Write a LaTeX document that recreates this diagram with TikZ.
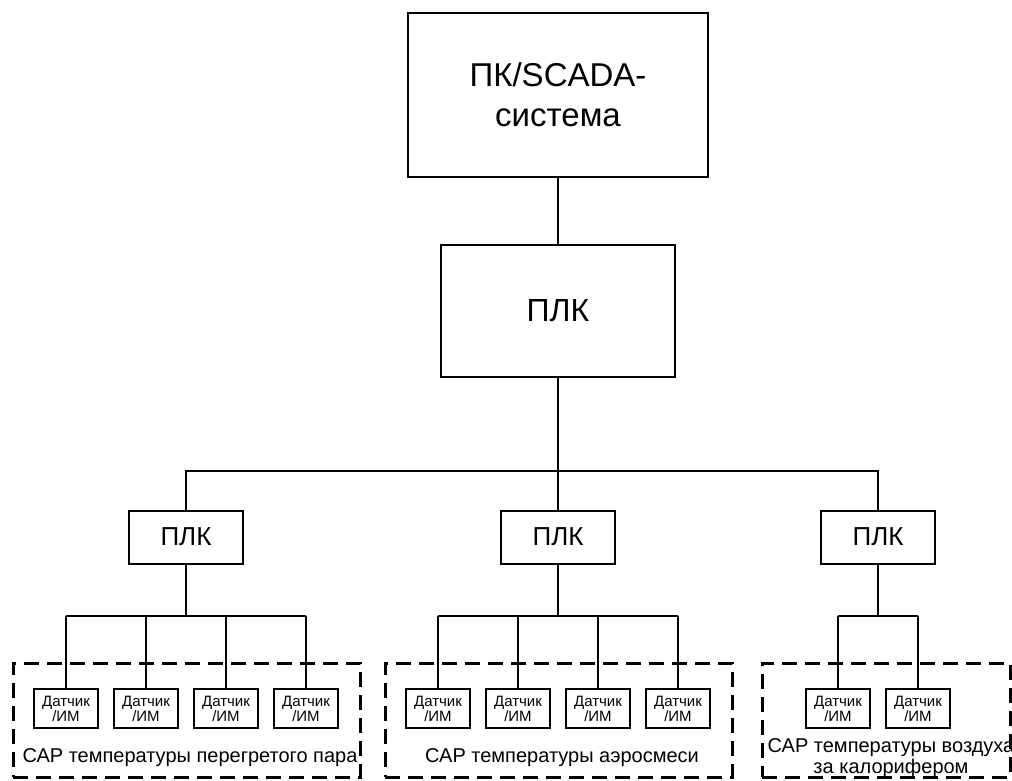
\documentclass[tikz,border=0pt]{standalone}
\usepackage{fontspec}
\setmainfont{Liberation Sans}

\tikzset{
  bigbox/.style={draw, line width=0.6pt, inner sep=0pt, align=center},
  plcbox/.style={draw, line width=1pt, minimum width=57pt, minimum height=26.5pt,
    inner sep=0pt, font=\fontsize{13}{15}\selectfont},
  sensbox/.style={draw, line width=1pt, minimum width=32pt, minimum height=19.5pt,
    inner sep=0pt, align=center, font=\fontsize{7.5}{7.5}\selectfont},
  groupbox/.style={draw, line width=1.5pt, dash pattern=on 7.5pt off 4pt,
    minimum height=57pt, inner sep=0pt},
  wire/.style={line width=1pt},
  caption/.style={align=center, inner sep=0pt, font=\fontsize{10}{10.5}\selectfont}
}

\begin{document}
\begin{tikzpicture}[x=0.5pt, y=-0.5pt]
\useasboundingbox (0,0) rectangle (1012,781);

% upper level
\node[bigbox, minimum width=150pt, minimum height=82pt,
  font=\fontsize{16.5}{20}\selectfont] (pc) at (558,95) {ПК/SCADA-\\система};
\node[bigbox, minimum width=117pt, minimum height=66pt,
  font=\fontsize{16}{18}\selectfont] (plc) at (558,311) {ПЛК};

% local controllers
\node[plcbox] (plcA) at (186,537) {ПЛК};
\node[plcbox] (plcB) at (558,537) {ПЛК};
\node[plcbox] (plcC) at (878,537) {ПЛК};

% groups
\node[groupbox, minimum width=173.5pt] (grpA) at (186.5,720) {};
\node[groupbox, minimum width=173.5pt] (grpB) at (558.5,720) {};
\node[groupbox, minimum width=124pt] (grpC) at (886,720) {};

\node[caption] (capA) at (190,758) {САР температуры перегретого пара};
\node[caption] (capB) at (562,758) {САР температуры аэросмеси};
\node[caption] (capC) at (891,758) {САР температуры воздуха\\за калорифером};

% sensors
\foreach \i/\x in {1/66, 2/146, 3/226, 4/306}
  \node[sensbox] (sA\i) at (\x,708.5) {Датчик\\/ИМ};
\foreach \i/\x in {1/438, 2/518, 3/598, 4/678}
  \node[sensbox] (sB\i) at (\x,708.5) {Датчик\\/ИМ};
\foreach \i/\x in {1/838, 2/918}
  \node[sensbox] (sC\i) at (\x,708.5) {Датчик\\/ИМ};

% buses
\coordinate (bus) at (558,471);
\coordinate (busA) at (186,616);
\coordinate (busB) at (558,616);
\coordinate (busC) at (878,616);

\draw[line width=0.8pt] (pc) -- (plc);
\draw[wire] (plc) -- (bus);
\draw[wire] (plcA.north) |- (bus) -| (plcC.north);
\draw[wire] (bus) -- (plcB);

\draw[wire] (plcA) -- (busA);
\draw[wire] (plcB) -- (busB);
\draw[wire] (plcC) -- (busC);
\draw[wire] (sA1.north |- busA) -- (sA4.north |- busA);
\draw[wire] (sB1.north |- busB) -- (sB4.north |- busB);
\draw[wire] (sC1.north |- busC) -- (sC2.north |- busC);
\foreach \i in {1,...,4} {
  \draw[wire] (sA\i) -- (sA\i.north |- busA);
  \draw[wire] (sB\i) -- (sB\i.north |- busB);
}
\foreach \i in {1,2}
  \draw[wire] (sC\i) -- (sC\i.north |- busC);
\end{tikzpicture}
\end{document}
